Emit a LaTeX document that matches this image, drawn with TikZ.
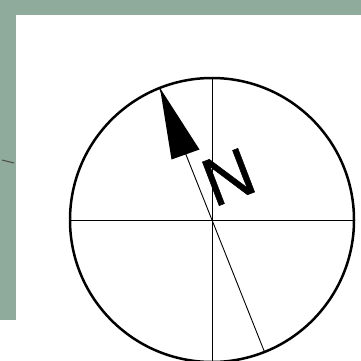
\documentclass[tikz,border=0pt]{standalone}
\usepackage{fontspec}
\setmainfont{Liberation Sans}
\newfontface\northface{Liberation Sans}[FakeBold=0.7]
\definecolor{sage}{RGB}{143,171,156}

\begin{document}
\begin{tikzpicture}[x=1pt,y=-1pt]
\clip (0,0) rectangle (361,361);
\fill[white] (0,0) rectangle (361,361);
\fill[sage] (0,0) rectangle (361,15);
\fill[sage] (0,15) rectangle (16,320);
\draw[gray!60!black,line width=1pt] (2,160)--(14,163);
\coordinate (O) at (212,220);
\draw[line width=1pt] (212,77)--(212,361);
\draw[line width=1pt] (69,220.5)--(355,220.5);
\draw[line width=0.9pt] (159.5,88.1)--(264.5,351.9);
\draw[line width=2.5pt] (O) circle (142pt);
\fill (160,88)--(171.5,159.5)--(199.5,149.5)--cycle;
\node[rotate=21,inner sep=0pt] (north) at (228.5,177) {\fontsize{68}{68}\northface N};
\end{tikzpicture}
\end{document}
